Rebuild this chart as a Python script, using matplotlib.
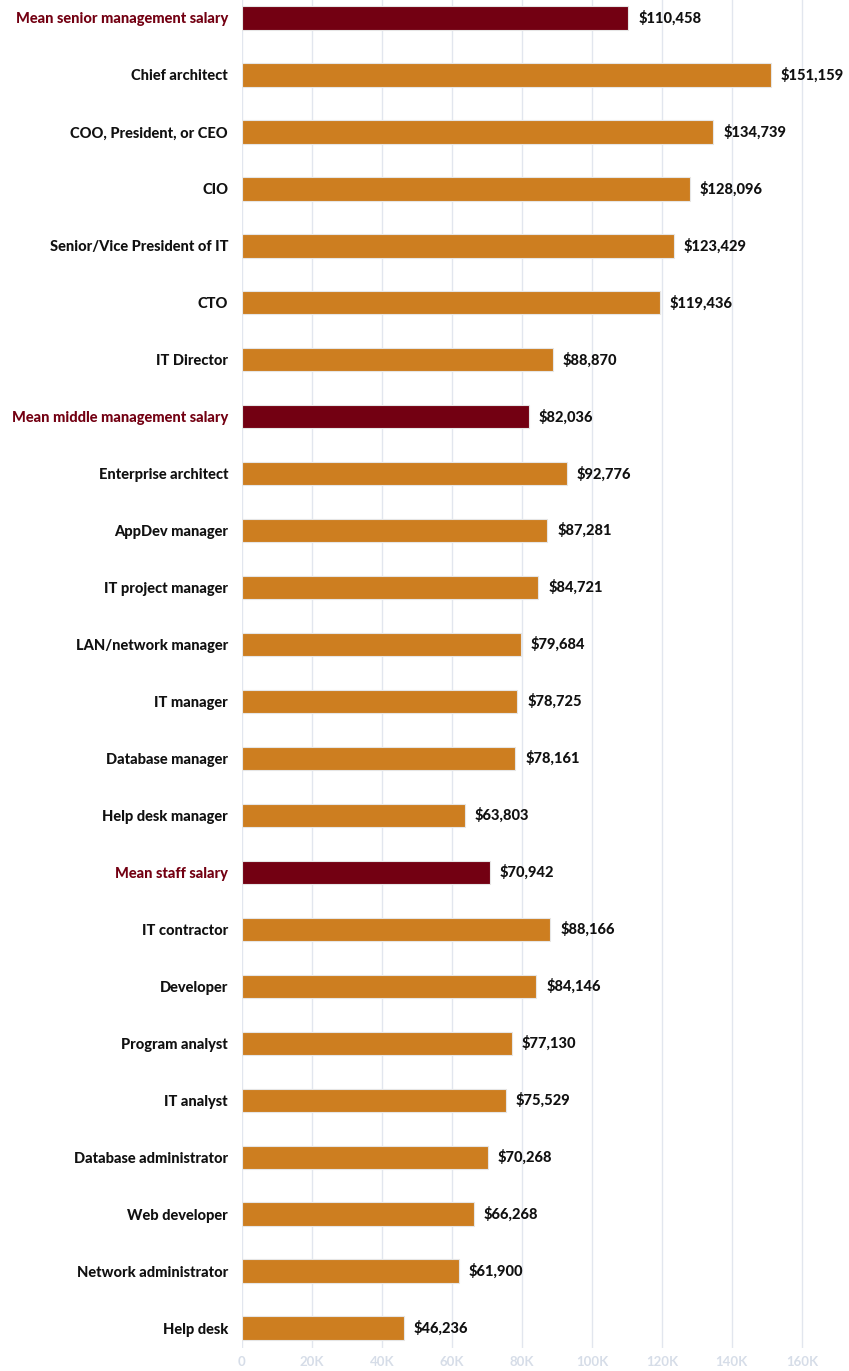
import numpy as np
import matplotlib.pyplot as plt

plt.rcParams['font.family'] = ['Lato', 'DejaVu Sans']

### données
roles = ['Mean senior management salary', 'Chief architect', 'COO, President, or CEO', 'CIO',
         'Senior/Vice President of IT', 'CTO', 'IT Director',
         'Mean middle management salary', 'Enterprise architect', 'AppDev manager',
         'IT project manager', 'LAN/network manager', 'IT manager', 'Database manager',
         'Help desk manager',
         'Mean staff salary', 'IT contractor', 'Developer', 'Program analyst', 'IT analyst',
         'Database administrator', 'Web developer', 'Network administrator', 'Help desk']
salaries = [110458, 151159, 134739, 128096, 123429, 119436, 88870,
            82036, 92776, 87281, 84721, 79684, 78725, 78161, 63803,
            70942, 88166, 84146, 77130, 75529, 70268, 66268, 61900, 46236]
mean_rows = ['Mean senior management salary', 'Mean middle management salary', 'Mean staff salary']
xticks = [0, 20000, 40000, 60000, 80000, 100000, 120000, 140000, 160000]
xtick_labels = ['0', '20K', '40K', '60K', '80K', '100K', '120K', '140K', '160K']

orange = '#CD7E20'
darkred = '#730012'

fig = plt.figure(figsize=(8.49, 13.71), dpi=100)
ax = fig.add_axes([0.285, 1 - 1348/1371, 0.715, 1348/1371])

y = np.arange(len(roles))
colors = [darkred if r in mean_rows else orange for r in roles]
ax.barh(y, salaries, height=0.41, color=colors, edgecolor='#E6E6E6', linewidth=0.8, zorder=3)

# étiquettes de valeurs
for yi, v in zip(y, salaries):
    ax.text(v + 2800, yi, f'${v:,}', va='center', ha='left', fontsize=10.5,
            fontweight='black', color='#111111')

ax.set_yticks(y)
ax.set_yticklabels(roles, fontsize=10.5, fontweight='black')
for lab in ax.get_yticklabels():
    lab.set_color(darkred if lab.get_text() in mean_rows else '#111111')
ax.tick_params(axis='y', length=0, pad=10)

ax.set_xticks(xticks)
ax.set_xticklabels(xtick_labels, fontsize=9.5, fontweight='bold', color='#D6DDE8')
ax.tick_params(axis='x', length=0, pad=6)

ax.set_xlim(0, 173500)
ax.set_ylim(23.35, -0.316)
ax.grid(axis='x', color='#E2E6EE', linewidth=1, zorder=0)
for s in ax.spines.values():
    s.set_visible(False)

plt.savefig('out.png', dpi=100)
